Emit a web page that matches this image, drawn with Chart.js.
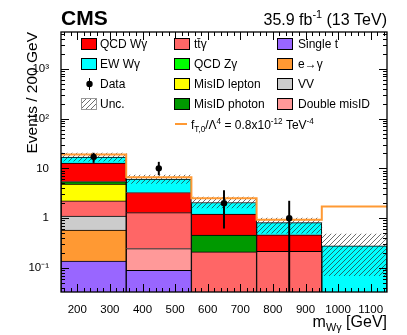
<!DOCTYPE html>
<html>
<head>
<meta charset="utf-8">
<script src="https://cdn.jsdelivr.net/npm/chart.js@4/dist/chart.umd.min.js"></script>
<style>
  body { margin: 0; background: #fff; }
  #wrap { width: 407px; height: 335px; position: relative; }
</style>
</head>
<body>
<div id="wrap"><canvas id="wgChartID"></canvas></div>
<script>
// m(W gamma) binning in GeV
let binEdges = [150, 350, 550, 750, 950, 1150];
let binCenters = [250, 450, 650, 850, 1050];
let xTickLabels = [200, 300, 400, 500, 600, 700, 800, 900, 1000, 1100];
let yTickValues = [0.1, 1, 10, 100, 1000];
let yTickLabels = ["10\u207B\u00B9", "1", "10", "10\u00B2", "10\u00B3"];

// predicted events per bin, bottom of the stack first
let singleT = [0.137, 0.09, 0, 0, 0];
let eToGamma = [0.44, 0, 0, 0, 0];
let vv = [0.52, 0, 0, 0, 0];
let doubleMisID = [0, 0.155, 0, 0, 0];
let ttGamma = [1.12, 1.045, 0.21, 0.215, 0];
let misIDLepton = [2.6, 0, 0, 0, 0];
let misIDPhoton = [0.61, 0, 0.246, 0, 0];
let qcdZGamma = [0, 0, 0, 0, 0];
let qcdWGamma = [7.3, 1.98, 0.746, 0.25, 0];
let ewWGamma = [4.1, 2.8, 0.86, 0.35, 0.278];

// total uncertainty band
let uncLow = [14, 5.0, 1.6, 0.5, 0.07];
let uncHigh = [20.2, 7.3, 2.64, 1.0, 0.48];

// observed data with error bars (last bin empty)
let dataValues = [17, 10, 2, 1, null];
let dataLow = [13.1, 7.4, 0.63, 0.01, null];
let dataHigh = [20.2, 13.3, 3.6, 2.2, null];

// aQGC signal, fT0/Lambda^4 = 0.8e-12 TeV^-4
let aqgcValues = [18.9, 6.65, 2.52, 0.925, 1.71];

let canvas = document.querySelector("#wgChartID");
let context = canvas.getContext("2d");

Chart.defaults.font.family = "'Liberation Sans', Arial, sans-serif";
Chart.defaults.color = "#000";

// hatch pattern for the uncertainty band
function makeHatch() {
  let c = document.createElement("canvas");
  c.width = 5;
  c.height = 5;
  let g = c.getContext("2d");
  g.strokeStyle = "rgba(40,40,40,0.85)";
  g.lineWidth = 0.8;
  g.beginPath();
  g.moveTo(0, 5); g.lineTo(5, 0);
  g.moveTo(-1, 1); g.lineTo(1, -1);
  g.moveTo(4, 6); g.lineTo(6, 4);
  g.stroke();
  return context.createPattern(c, "repeat");
}
let hatch = makeHatch();

let processes = [
  { label: "Single t", values: singleT, color: "#9966ff" },
  { label: "e\u2192\u03B3", values: eToGamma, color: "#ff9933" },
  { label: "VV", values: vv, color: "#cccccc" },
  { label: "Double misID", values: doubleMisID, color: "#ff9999" },
  { label: "tt\u0304\u03B3", values: ttGamma, color: "#ff6666" },
  { label: "MisID lepton", values: misIDLepton, color: "#ffff00" },
  { label: "MisID photon", values: misIDPhoton, color: "#009900" },
  { label: "QCD Z\u03B3", values: qcdZGamma, color: "#00ff00" },
  { label: "QCD W\u03B3", values: qcdWGamma, color: "#ff0000" },
  { label: "EW W\u03B3", values: ewWGamma, color: "#00ffff" },
];

let datasets = [];

// data points (drawn on top)
datasets.push({
  type: "scatter",
  label: "Data",
  data: binCenters.map((x, i) => ({ x: x, y: dataValues[i] })).filter((p) => p.y !== null),
  backgroundColor: "#000",
  borderWidth: 0,
  pointRadius: 3.2,
  stack: "data",
  order: 0,
});

// data error bars as thin floating bars
datasets.push({
  type: "bar",
  label: "Data err",
  data: binCenters.map((x, i) => ({ x: x, y: [dataLow[i], dataHigh[i]] })).filter((p, i) => dataValues[i] !== null),
  backgroundColor: "#000",
  barThickness: 1.3,
  grouped: false,
  stack: "err",
  clip: 0,
  order: 1,
});

// aQGC step line (one point per lower bin edge, last value repeated at the upper edge)
datasets.push({
  type: "line",
  label: "aQGC",
  data: binEdges.map((x, i) => ({ x: x, y: aqgcValues[Math.min(i, aqgcValues.length - 1)] })),
  stepped: "before",
  borderColor: "#ff9933",
  borderWidth: 2,
  pointRadius: 0,
  fill: false,
  stack: "aqgc",
  order: 1,
});

// uncertainty band
datasets.push({
  type: "bar",
  label: "Unc.",
  data: binCenters.map((x, i) => ({ x: x, y: [uncLow[i], uncHigh[i]] })),
  backgroundColor: hatch,
  borderWidth: 0,
  grouped: false,
  barPercentage: 1,
  categoryPercentage: 1,
  stack: "unc",
  clip: 0,
  order: 2,
});

// stacked predictions
processes.forEach(function (p) {
  datasets.push({
    type: "bar",
    label: p.label,
    data: binCenters.map((x, i) => ({ x: x, y: p.values[i] || null })),
    backgroundColor: p.color,
    borderColor: "#000",
    borderWidth: 1,
    barPercentage: 1,
    categoryPercentage: 1,
    stack: "mc",
    clip: 0,
    order: 3,
  });
});

function colorOf(label) {
  return processes.find((p) => p.label === label).color;
}

// text with super/subscripts: parts = [[text, shift]] shift 1 = sup, -1 = sub
function richText(ctx, parts, x, y, size, align) {
  let pieces = parts.map(function (p) {
    let fs = p[1] === 0 ? size : size * 0.68;
    ctx.font = fs + "px 'Liberation Sans'";
    return { t: p[0], s: p[1], fs: fs, w: ctx.measureText(p[0]).width };
  });
  let total = pieces.reduce((a, p) => a + p.w, 0);
  let cx = align === "right" ? x - total : x;
  ctx.textAlign = "left";
  ctx.textBaseline = "alphabetic";
  pieces.forEach(function (p) {
    ctx.font = p.fs + "px 'Liberation Sans'";
    let dy = p.s === 1 ? -size * 0.42 : p.s === -1 ? size * 0.28 : 0;
    ctx.fillText(p.t, cx, y + dy);
    cx += p.w;
  });
}

let decorPlugin = {
  id: "decor",
  afterDraw(chart) {
    let ctx = chart.ctx;
    let a = chart.chartArea;
    let xs = chart.scales.x;
    let ys = chart.scales.y;
    ctx.save();
    ctx.fillStyle = "#000";
    ctx.strokeStyle = "#000";

    // inward ticks on all four sides
    ctx.lineWidth = 1;
    ctx.beginPath();
    for (let e = -2; e <= 4; e++) {
      for (let m = 1; m <= 9; m++) {
        let v = m * Math.pow(10, e);
        if (v < ys.min || v > ys.max) continue;
        let py = Math.round(ys.getPixelForValue(v)) + 0.5;
        let len = m === 1 ? 8 : 4;
        ctx.moveTo(a.left, py); ctx.lineTo(a.left + len, py);
        ctx.moveTo(a.right, py); ctx.lineTo(a.right - len, py);
      }
    }
    for (let v = 160; v < 1150; v += 20) {
      let px = Math.round(xs.getPixelForValue(v)) + 0.5;
      let len = v % 100 === 0 ? 8 : 4;
      ctx.moveTo(px, a.bottom); ctx.lineTo(px, a.bottom - len);
      ctx.moveTo(px, a.top); ctx.lineTo(px, a.top + len);
    }
    ctx.stroke();

    // frame
    ctx.lineWidth = 1.3;
    ctx.strokeRect(a.left, a.top, a.right - a.left, a.bottom - a.top);

    // header
    ctx.font = "bold 21px 'Liberation Sans'";
    ctx.textAlign = "left";
    ctx.fillText("CMS", a.left, 25);
    richText(ctx, [["35.9 fb", 0], ["-1", 1], [" (13 TeV)", 0]], a.right, 25, 16, "right");

    // axis titles
    richText(ctx, [["m", 0], ["W\u03B3", -1], [" [GeV]", 0]], a.right, 327, 16, "right");
    ctx.save();
    ctx.translate(37, a.top);
    ctx.rotate(-Math.PI / 2);
    ctx.font = "15.5px 'Liberation Sans'";
    ctx.textAlign = "right";
    ctx.fillText("Events / 200 GeV", 0, 0);
    ctx.restore();

    // legend
    let rows = [44, 64, 84, 104, 124];
    let cols = [{ box: 81, text: 100 }, { box: 174, text: 194 }, { box: 277, text: 298 }];
    let boxEntries = [
      [0, 0, "QCD W\u03B3"], [0, 1, "EW W\u03B3"],
      [1, 0, "tt\u0304\u03B3"], [1, 1, "QCD Z\u03B3"], [1, 2, "MisID lepton"], [1, 3, "MisID photon"],
      [2, 0, "Single t"], [2, 1, "e\u2192\u03B3"], [2, 2, "VV"], [2, 3, "Double misID"],
    ];
    ctx.font = "12px 'Liberation Sans'";
    ctx.textBaseline = "middle";
    ctx.lineWidth = 1;
    boxEntries.forEach(function (en) {
      let c = cols[en[0]];
      let y = rows[en[1]];
      ctx.fillStyle = colorOf(en[2]);
      ctx.fillRect(c.box, y - 6, 16, 12);
      ctx.strokeStyle = "#000";
      ctx.strokeRect(c.box + 0.5, y - 5.5, 15, 11);
      ctx.fillStyle = "#000";
      ctx.textAlign = "left";
      ctx.fillText(en[2], c.text, y + 1);
    });
    // data entry
    ctx.beginPath();
    ctx.moveTo(89.5, rows[2] - 6); ctx.lineTo(89.5, rows[2] + 6);
    ctx.stroke();
    ctx.beginPath();
    ctx.arc(89.5, rows[2], 3.2, 0, Math.PI * 2);
    ctx.fill();
    ctx.fillText("Data", cols[0].text, rows[2] + 1);
    // uncertainty entry
    ctx.fillStyle = hatch;
    ctx.fillRect(cols[0].box, rows[3] - 6, 16, 12);
    ctx.strokeStyle = "#999";
    ctx.strokeRect(cols[0].box + 0.5, rows[3] - 5.5, 15, 11);
    ctx.fillStyle = "#000";
    ctx.fillText("Unc.", cols[0].text, rows[3] + 1);
    // aQGC entry
    ctx.strokeStyle = "#ff9933";
    ctx.lineWidth = 2;
    ctx.beginPath();
    ctx.moveTo(175, rows[4]); ctx.lineTo(187, rows[4]);
    ctx.stroke();
    ctx.fillStyle = "#000";
    richText(ctx, [["f", 0], ["T,0", -1], ["/\u039B", 0], ["4", 1], [" = 0.8x10", 0], ["-12", 1], [" TeV", 0], ["-4", 1]],
      191, rows[4] + 5, 12, "left");
    ctx.restore();
  },
};

let wgChart = new Chart(context, {
  type: "bar",
  data: { datasets: datasets },
  options: {
    responsive: true,
    maintainAspectRatio: false,
    animation: false,
    layout: { padding: { top: 32, right: 20, left: 0, bottom: 0 } },
    plugins: {
      legend: { display: false },
      tooltip: { enabled: false },
    },
    scales: {
      // data axis: ticks on the bin edges so bars fill each bin
      x: {
        type: "linear",
        display: false,
        offset: false,
        min: 150,
        max: 1150,
        stacked: true,
        grid: { offset: false },
        afterBuildTicks: function (scale) {
          scale.ticks = binEdges.map((v) => ({ value: v }));
        },
      },
      // label axis
      xLabels: {
        type: "linear",
        position: "bottom",
        offset: false,
        min: 150,
        max: 1150,
        grid: { display: false, offset: false },
        border: { display: false },
        afterBuildTicks: function (scale) {
          scale.ticks = xTickLabels.map((v) => ({ value: v }));
        },
        afterFit: function (scale) {
          scale.height = 43;
        },
        ticks: {
          padding: 3,
          autoSkip: false,
          maxRotation: 0,
          font: { size: 11.5 },
          color: "#000",
          callback: (value) => String(value),
        },
      },
      y: {
        type: "logarithmic",
        min: 0.033,
        max: 5450,
        stacked: true,
        grid: { display: false },
        border: { display: false },
        afterBuildTicks: function (scale) {
          scale.ticks = yTickValues.map((v) => ({ value: v }));
        },
        afterFit: function (scale) {
          scale.width = 61;
        },
        ticks: {
          padding: 4,
          font: { size: 11.5 },
          color: "#000",
          callback: function (value) {
            return yTickLabels[yTickValues.indexOf(value)];
          },
        },
      },
    },
  },
  plugins: [decorPlugin],
});
</script>
</body>
</html>
